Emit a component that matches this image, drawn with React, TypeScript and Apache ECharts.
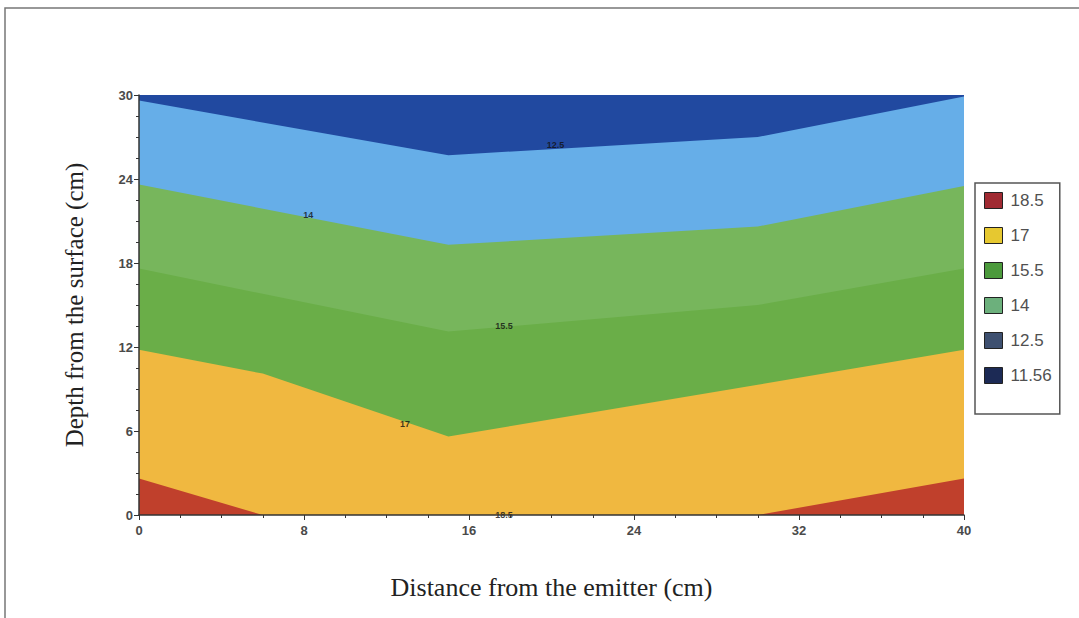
import React, { useEffect, useRef } from "react";
import * as echarts from "echarts";

// Contour boundaries (x cm, depth cm); each band fills from its boundary down to 0
const band1156: number[][] = [[0, 30], [40, 30]];
const band125: number[][] = [[0, 29.6], [15, 25.7], [30, 27.0], [40, 29.9]];
const band14: number[][] = [[0, 23.6], [15, 19.3], [30, 20.6], [40, 23.5]];
const band155: number[][] = [[0, 17.6], [15, 13.1], [30, 15.0], [40, 17.6]];
const band17: number[][] = [[0, 11.8], [6, 10.1], [15, 5.6], [30, 9.3], [40, 11.8]];
const band185: number[][] = [[0, 2.6], [6, 0], [30, 0], [40, 2.6]];

const bandNames = ["11.56", "12.5", "14", "15.5", "17", "18.5"];
const bandColors = ["#2149a0", "#66aee8", "#77b65c", "#6aae48", "#f0b840", "#c0402c"];
const legendColors = ["#1c2a55", "#3e5070", "#6cb07c", "#4c9a3c", "#e6c830", "#a02a32"];
const contourLabels: { v: string; x: number; y: number }[] = [
  { v: "12.5", x: 20.2, y: 26.4 },
  { v: "14", x: 8.2, y: 21.4 },
  { v: "15.5", x: 17.7, y: 13.5 },
  { v: "17", x: 12.9, y: 6.5 },
  { v: "18.5", x: 17.7, y: 0 },
];
const xTicks = [0, 8, 16, 24, 32, 40];
const yTicks = [0, 6, 12, 18, 24, 30];

export default function App() {
  const ref = useRef<HTMLDivElement>(null);
  useEffect(() => {
    document.body.style.margin = "0";
    const chart = echarts.init(ref.current!, null, { renderer: "svg" });
    const bands = [band1156, band125, band14, band155, band17, band185];
    const series: any[] = bands.map((d, i) => ({
      name: bandNames[i],
      type: "line",
      data: d,
      symbol: "none",
      lineStyle: { width: 0 },
      itemStyle: { color: bandColors[i] },
      areaStyle: { color: bandColors[i], opacity: 1, origin: "start" },
      z: 2,
    }));
    series.push({
      type: "scatter",
      symbolSize: 0,
      data: contourLabels.map((c) => [c.x, c.y, c.v]),
      label: {
        show: true,
        position: "inside",
        formatter: (p: any) => p.value[2],
        fontSize: 9,
        fontWeight: "bold",
        fontFamily: "Arial",
        color: "#111",
      },
      z: 5,
      silent: true,
    });
    chart.setOption({
      animation: false,
      backgroundColor: "#ffffff",
      grid: { left: 139, right: 115, top: 95, bottom: 103 },
      xAxis: {
        type: "value",
        min: xTicks[0],
        max: xTicks[xTicks.length - 1],
        interval: 8,
        name: "Distance from the emitter (cm)",
        nameLocation: "middle",
        nameGap: 59,
        nameTextStyle: { fontFamily: "Liberation Serif", fontSize: 26, color: "#222" },
        axisLine: { show: true, lineStyle: { color: "#333", width: 1.5 } },
        axisTick: { show: true, length: 5, lineStyle: { color: "#333" } },
        minorTick: { show: true, splitNumber: 4, length: 3, lineStyle: { color: "#333" } },
        splitLine: { show: false },
        axisLabel: { fontFamily: "Arial", fontSize: 13, fontWeight: "bold", color: "#4a4a4a", margin: 9 },
        z: 10,
      },
      yAxis: {
        type: "value",
        min: yTicks[0],
        max: yTicks[yTicks.length - 1],
        interval: 6,
        name: "Depth from the surface (cm)",
        nameLocation: "middle",
        nameGap: 52,
        nameTextStyle: { fontFamily: "Liberation Serif", fontSize: 25, color: "#222" },
        axisLine: { show: true, lineStyle: { color: "#333", width: 1.5 } },
        axisTick: { show: true, length: 5, lineStyle: { color: "#333" } },
        minorTick: { show: true, splitNumber: 4, length: 3, lineStyle: { color: "#333" } },
        splitLine: { show: false },
        axisLabel: { fontFamily: "Arial", fontSize: 13, fontWeight: "bold", color: "#4a4a4a", margin: 6 },
        z: 10,
      },
      legend: {
        orient: "vertical",
        left: 975,
        top: 183,
        padding: [9, 8, 30, 9],
        itemWidth: 18,
        itemHeight: 16,
        itemGap: 18,
        icon: "rect",
        borderColor: "#555",
        borderWidth: 1.5,
        textStyle: { fontFamily: "Arial", fontSize: 17, color: "#505050", padding: [0, 6, 0, 3] },
        data: bandNames
          .map((n, i) => ({
            name: n,
            itemStyle: { color: legendColors[i], borderColor: "#222", borderWidth: 1 },
          }))
          .reverse(),
      },
      graphic: [
        {
          type: "polyline",
          shape: { points: [[5, 618], [5, 8], [1079, 8]] },
          style: { stroke: "#777", lineWidth: 1.5, fill: "none" },
        },
      ],
      series,
    });
    return () => chart.dispose();
  }, []);
  return <div ref={ref} style={{ width: 1079, height: 618 }} />;
}
